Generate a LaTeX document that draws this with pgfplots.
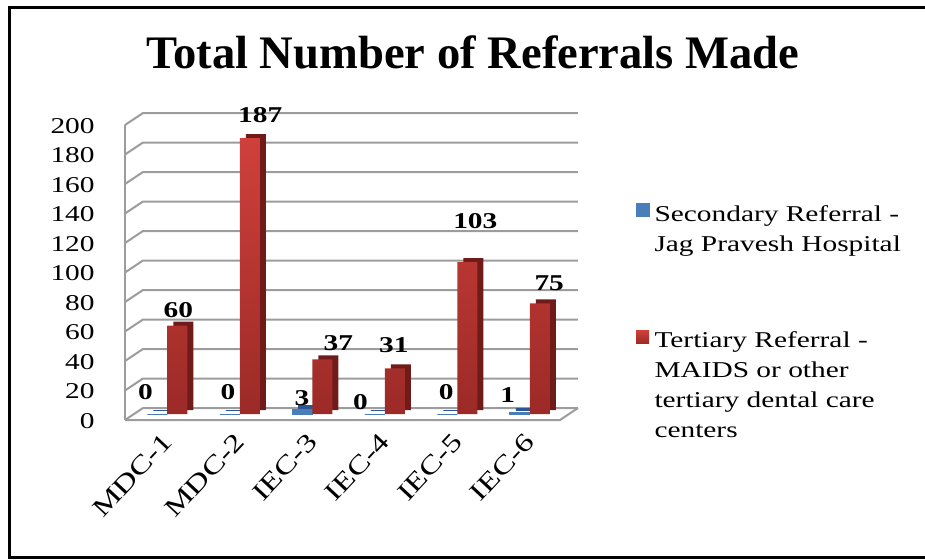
\documentclass[border=0pt]{standalone}
\usepackage{pgfplots}
\pgfplotsset{compat=1.18}
\usepackage{pgfplotstable}
\usepackage{fontspec}
\setmainfont{Liberation Serif}[FakeStretch=1.3]
\newfontfamily\titlefont{Liberation Serif}

\definecolor{gridgray}{HTML}{9C9C9C}
\definecolor{redtop}{HTML}{CF403B}
\definecolor{redbot}{HTML}{9C2A27}
\definecolor{redside}{HTML}{6E1B19}
\definecolor{bluefront}{HTML}{4A7EBB}
\definecolor{blueside}{HTML}{2B5690}

% dx, dy: label offsets (pt) from the category centre / bar top
\pgfplotstableread{
x y dx dy
0 0 -11 11.2
1 0 -6 11.2
2 3 -5.2 5.8
3 0 -12.2 6.2
4 0 -5.5 10.8
5 1 -11 8.8
}\secondary
\pgfplotstableread{
x y dx dy
0 60 5.5 7.8
1 187 10.2 11.5
2 37 13 8
3 31 4.5 11.5
4 103 9 20.5
5 75 9.7 10
}\tertiary

\begin{document}
\begin{tikzpicture}
\useasboundingbox (-67pt,-72.5pt) rectangle (395.5pt,207pt);
\draw[line width=1.5pt] (395.5pt,203.5pt) -- (-62pt,203.5pt) -- (-62pt,-71.5pt) -- (395.5pt,-71.5pt);
\node[font=\titlefont\fontsize{23.3}{27}\selectfont\bfseries] at (169.5pt,181pt) {Total Number of Referrals Made};
\begin{axis}[
  at={(0pt,0pt)}, anchor=south west,
  scale only axis, width=217.5pt, height=147.5pt,
  xmin=-0.46, xmax=5.54, ymin=0, ymax=200,
  xtick={0,...,5}, xticklabels={MDC-1,MDC-2,IEC-3,IEC-4,IEC-5,IEC-6},
  ytick={0,20,...,200},
  axis line style={draw=none}, major tick length=0pt,
  clip=false,
  /pgf/number format/assume math mode=true,
  tick label style={font=\fontsize{11.3}{13}\selectfont},
  yticklabel style={anchor=east, inner sep=0pt, xshift=-19.5pt, yshift=-3.5pt},
  xticklabel style={inner sep=0pt, xshift=-3pt, yshift=-8.5pt, rotate=47, anchor=north east, font=\fontsize{12.8}{14}\selectfont},
  legend style={at={(1.152,0.715)}, anchor=north west, draw=none, fill=none, inner sep=0pt,
    row sep=53pt, font=\fontsize{11.3}{15}\selectfont, nodes={inner sep=0pt},
    /tikz/every even column/.append style={column sep=10.5pt}},
  legend cell align=left,
]
\pgfplotsinvokeforeach{0,20,...,200}{
  \draw[gridgray, line width=1pt] ([shift={(-4.5pt,-3pt)}]axis cs:-0.46,#1) -- ([shift={(4.5pt,3pt)}]axis cs:-0.46,#1) -- ([shift={(4.5pt,3pt)}]axis cs:5.54,#1);
}
\draw[gridgray, line width=1pt] ([shift={(-4.5pt,-3pt)}]axis cs:-0.46,0) -- ([shift={(-4.5pt,-3pt)}]axis cs:-0.46,200);
\draw[gridgray, line width=1pt] ([shift={(-4.5pt,-3pt)}]axis cs:-0.46,0) -- ([shift={(-4.5pt,-3pt)}]axis cs:5.54,0) -- ([shift={(4.5pt,3pt)}]axis cs:5.54,0);

\addplot[ybar, bar width=10pt, bar shift=-5pt, fill=blueside, draw=blueside, line width=0.3pt, xshift=3pt, yshift=2pt, forget plot] table[x=x,y=y]{\secondary};
\addplot[ybar, bar width=10pt, bar shift=-5pt, fill=bluefront, draw=bluefront, line width=0.5pt,
  legend image code/.code={\fill[bluefront] (0pt,-1pt) rectangle (6.5pt,5.5pt);},
  visualization depends on={\thisrow{dx} \as \lblx},
  visualization depends on={\thisrow{dy} \as \lbly},
  nodes near coords,
  every node near coord/.append style={anchor=center, shift={(\lblx pt,\lbly pt)}, font=\fontsize{11.3}{13}\selectfont\bfseries, text=black}
] table[x=x,y=y]{\secondary};
\addlegendentry{\kern2.5pt\vtop{\hbox{Secondary Referral -}\hbox{Jag Pravesh Hospital}}}

\addplot[ybar, bar width=10pt, bar shift=5pt, fill=redside, draw=none, xshift=3pt, yshift=2pt, forget plot] table[x=x,y=y]{\tertiary};
\addplot[ybar, bar width=10pt, bar shift=5pt, top color=redtop, bottom color=redbot, draw=none,
  legend image code/.code={\fill[redtop!85!redbot] (0pt,-1pt) rectangle (6.5pt,5.5pt);},
  visualization depends on={\thisrow{dx} \as \lblx},
  visualization depends on={\thisrow{dy} \as \lbly},
  nodes near coords,
  every node near coord/.append style={anchor=center, shift={(\lblx pt,\lbly pt)}, font=\fontsize{11.3}{13}\selectfont\bfseries, text=black}
] table[x=x,y=y]{\tertiary};
\addlegendentry{\kern2.5pt\vtop{\hbox{Tertiary Referral -}\hbox{MAIDS or other}\hbox{tertiary dental care}\hbox{centers}}}
\end{axis}
\end{tikzpicture}
\end{document}
